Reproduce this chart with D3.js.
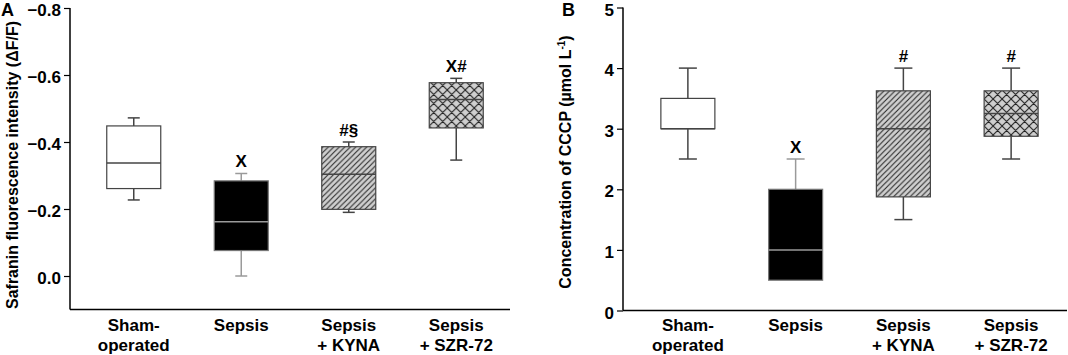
<!DOCTYPE html>
<html>
<head>
<meta charset="utf-8">
<script src="https://cdn.jsdelivr.net/npm/d3@7"></script>
<style>
  body { margin: 0; background: #fff; }
  svg { display: block; font-family: "Liberation Sans", Arial, sans-serif; }
</style>
</head>
<body>
<svg id="chart" width="1068" height="355"></svg>
<script>
// Groups along the x axis (two lines each)
const groupLabels = [
  ["Sham-", "operated"],
  ["Sepsis", ""],
  ["Sepsis", "+ KYNA"],
  ["Sepsis", "+ SZR-72"]
];
const groupFills = ["white", "black", "url(#hatch)", "url(#cross)"];

// Box stats per group: [min, q1, median, q3, max]
const safraninStats = [
  [-0.227, -0.261, -0.337, -0.448, -0.472],
  [0.000, -0.076, -0.162, -0.284, -0.306],
  [-0.190, -0.199, -0.304, -0.386, -0.400],
  [-0.346, -0.442, -0.527, -0.577, -0.590]
];
const cccpStats = [
  [2.5, 3.0, 3.0, 3.5, 4.0],
  [0.5, 0.5, 1.0, 2.0, 2.5],
  [1.5, 1.875, 3.0, 3.625, 4.0],
  [2.5, 2.875, 3.25, 3.625, 4.0]
];

// Significance marks above each box
const safraninMarks = ["", "X", "#\u00A7", "X#"];
const cccpMarks = ["", "X", "#", "#"];

// Tick values
const safraninTicks = [0.0, -0.2, -0.4, -0.6, -0.8];
const cccpTicks = [0, 1, 2, 3, 4, 5];

const svg = d3.select("#chart");

// Hatch patterns
const defs = svg.append("defs");
const hatch = defs.append("pattern")
  .attr("id", "hatch")
  .attr("patternUnits", "userSpaceOnUse")
  .attr("width", 5.5)
  .attr("height", 5.5);
hatch.append("rect").attr("width", 5.5).attr("height", 5.5).attr("fill", "#cfcfcf");
hatch.append("path")
  .attr("d", "M0,5.5L5.5,0M-1,1L1,-1M4.5,6.5L6.5,4.5")
  .attr("stroke", "#222")
  .attr("stroke-width", 1);

const cross = defs.append("pattern")
  .attr("id", "cross")
  .attr("patternUnits", "userSpaceOnUse")
  .attr("width", 9)
  .attr("height", 9);
cross.append("rect").attr("width", 9).attr("height", 9).attr("fill", "#cfcfcf");
cross.append("path")
  .attr("d", "M0,9L9,0M-1,1L1,-1M8,10L10,8M0,0L9,9M-1,8L1,10M8,-1L10,1")
  .attr("stroke", "#222")
  .attr("stroke-width", 1.1);

function drawPanel(opts) {
  const g = svg.append("g");

  const x = d3.scaleBand()
    .domain(d3.range(groupLabels.length))
    .range(opts.xRange);

  const y = d3.scaleLinear()
    .domain(opts.yDomain)
    .range(opts.yRange);

  // y axis
  const yAxis = d3.axisLeft(y)
    .tickValues(opts.ticks)
    .tickFormat(opts.tickFormat)
    .tickSize(6)
    .tickPadding(3);
  const yg = g.append("g")
    .attr("transform", `translate(${opts.xRange[0] - opts.axisGap},0)`)
    .call(yAxis);
  yg.select(".domain").remove();
  yg.append("line")
    .attr("y1", y(opts.yDomain[1]))
    .attr("y2", opts.yRange[0])
    .attr("stroke", "#000")
    .attr("stroke-width", 1.5);
  yg.selectAll(".tick line").attr("stroke-width", 1.2);
  yg.selectAll(".tick text")
    .attr("fill", "#000")
    .attr("dy", "0.45em")
    .attr("font-size", "17px")
    .attr("font-weight", "bold");

  // x axis line
  g.append("line")
    .attr("x1", opts.xRange[0] - opts.axisGap)
    .attr("x2", opts.xEnd)
    .attr("y1", opts.yRange[0])
    .attr("y2", opts.yRange[0])
    .attr("stroke", "#000")
    .attr("stroke-width", 1.5);

  // x labels
  const xl = g.append("g")
    .selectAll("text")
    .data(groupLabels)
    .join("text")
    .attr("x", (d, i) => x(i) + x.bandwidth() / 2)
    .attr("text-anchor", "middle")
    .attr("font-size", "17px")
    .attr("font-weight", "bold");
  xl.append("tspan").attr("y", 331).text(d => d[0]);
  xl.append("tspan")
    .attr("x", (d, i) => x(i) + x.bandwidth() / 2)
    .attr("y", 351)
    .text(d => d[1]);

  // boxes
  const boxW = 54;
  const box = g.append("g")
    .selectAll("g")
    .data(opts.stats)
    .join("g")
    .attr("transform", (d, i) => `translate(${x(i) + x.bandwidth() / 2},0)`);

  const lineCol = d => opts.stats.indexOf(d) === 1 ? "#9a9a9a" : "#444";

  // whiskers
  box.append("line")
    .attr("y1", d => y(d[3]))
    .attr("y2", d => y(d[4]))
    .attr("stroke", lineCol)
    .attr("stroke-width", 1.5);
  box.append("line")
    .attr("y1", d => y(d[1]))
    .attr("y2", d => y(d[0]))
    .attr("stroke", lineCol)
    .attr("stroke-width", 1.5);
  box.filter(d => d[4] !== d[3]).append("line")
    .attr("x1", -opts.capW / 2)
    .attr("x2", opts.capW / 2)
    .attr("y1", d => y(d[4]))
    .attr("y2", d => y(d[4]))
    .attr("stroke", lineCol)
    .attr("stroke-width", 1.5);
  box.filter(d => d[0] !== d[1]).append("line")
    .attr("x1", -opts.capW / 2)
    .attr("x2", opts.capW / 2)
    .attr("y1", d => y(d[0]))
    .attr("y2", d => y(d[0]))
    .attr("stroke", lineCol)
    .attr("stroke-width", 1.5);

  box.append("rect")
    .attr("x", -boxW / 2)
    .attr("width", boxW)
    .attr("y", d => Math.min(y(d[3]), y(d[1])))
    .attr("height", d => Math.abs(y(d[1]) - y(d[3])))
    .attr("fill", (d, i) => groupFills[i])
    .attr("stroke", (d, i) => i === 1 ? "#777" : "#444")
    .attr("stroke-width", 1.2);

  // median
  box.append("line")
    .attr("x1", -boxW / 2)
    .attr("x2", boxW / 2)
    .attr("y1", d => y(d[2]))
    .attr("y2", d => y(d[2]))
    .attr("stroke", lineCol)
    .attr("stroke-width", 1.5);

  // significance marks
  box.append("text")
    .attr("y", d => y(d[4]) - 6)
    .attr("text-anchor", "middle")
    .attr("font-size", "17px")
    .attr("font-weight", "bold")
    .text((d, i) => opts.marks[i]);

  // y label
  const yl = g.append("text")
    .attr("transform", `translate(${opts.yLabelX},${opts.yLabelY}) rotate(-90)`)
    .attr("text-anchor", "middle")
    .attr("font-size", "16px")
    .attr("font-weight", "bold");
  opts.yLabel(yl);

  // panel letter
  g.append("text")
    .attr("x", opts.letterX)
    .attr("y", 16)
    .attr("font-size", "18px")
    .attr("font-weight", "bold")
    .text(opts.letter);
}

drawPanel({
  letter: "A",
  letterX: 1,
  stats: safraninStats,
  marks: safraninMarks,
  ticks: safraninTicks,
  tickFormat: d3.format(".1f"),
  yDomain: [0.1, -0.8],
  yRange: [309.5, 8],
  xRange: [80, 510],
  xEnd: 510,
  axisGap: 10,
  capW: 12,
  yLabelX: 18,
  yLabelY: 165,
  yLabel: t => t.text("Safranin fluorescence intensity (\u0394F/F)")
});

drawPanel({
  letter: "B",
  letterX: 562,
  stats: cccpStats,
  marks: cccpMarks,
  ticks: cccpTicks,
  tickFormat: d3.format("d"),
  yDomain: [0, 5],
  yRange: [310.5, 7.5],
  xRange: [634, 1065],
  xEnd: 1067,
  axisGap: 11,
  capW: 18,
  yLabelX: 571,
  yLabelY: 162,
  yLabel: t => {
    t.append("tspan").text("Concentration of CCCP (\u00B5mol L");
    t.append("tspan").attr("font-size", "10px").attr("dy", -6).text("-1");
    t.append("tspan").attr("dy", 6).text(")");
  }
});
</script>
</body>
</html>
